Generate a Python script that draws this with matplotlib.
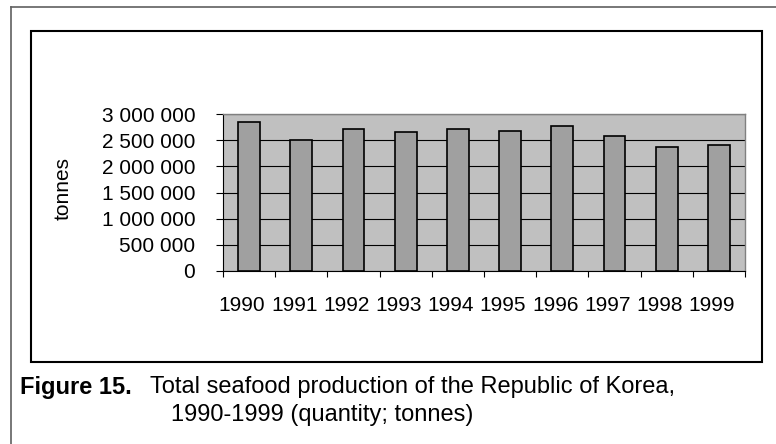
import matplotlib
matplotlib.use("Agg")
import matplotlib.pyplot as plt
import matplotlib.transforms as mtransforms
from matplotlib.patches import Rectangle
from matplotlib.lines import Line2D
from matplotlib.ticker import FuncFormatter

# Data
years = ["1990", "1991", "1992", "1993", "1994", "1995", "1996", "1997", "1998", "1999"]
production = [2855000, 2510000, 2710000, 2660000, 2710000, 2680000, 2780000, 2580000, 2365000, 2410000]
y_ticks = [0, 500000, 1000000, 1500000, 2000000, 2500000, 3000000]

plt.rcParams["font.family"] = ["Liberation Sans", "DejaVu Sans"]

W, H = 776, 444
fig = plt.figure(figsize=(W / 100, H / 100), dpi=100)


def fx(px):
    return px / W


def fy(py):
    return 1 - py / H


# Plot area
ax = fig.add_axes([fx(223), fy(271), fx(745) - fx(223), fy(114) - fy(271)])
ax.set_facecolor("#c0c0c0")
x = list(range(len(years)))
ax.bar(x, production, width=0.42, color="#a0a0a0", edgecolor="black", linewidth=1.2, zorder=3)
ax.set_xlim(-0.5, len(years) - 0.5)
ax.set_ylim(0, 3000000)

ax.set_yticks(y_ticks)
ax.yaxis.set_major_formatter(FuncFormatter(lambda v, p: f"{int(v):,}".replace(",", " ")))
ax.yaxis.grid(True, color="black", linewidth=0.8)
ax.set_axisbelow(True)

# tick marks between categories, labels at category centres
ax.set_xticks([i - 0.5 for i in range(len(years) + 1)])
ax.set_xticklabels([])
ax.set_xticks(x, minor=True)
ax.set_xticklabels(years, minor=True)
ax.tick_params(axis="x", which="major", length=4.5, width=0.8, direction="out")
ax.tick_params(axis="x", which="minor", length=0, pad=18, labelsize=15)
ax.tick_params(axis="y", length=5, width=0.8, pad=15, labelsize=15)

# labels sit a bit left of the category centre in the original
shift = mtransforms.ScaledTranslation(-7 / 100, 0, fig.dpi_scale_trans)
for lbl in ax.get_xticklabels(minor=True):
    lbl.set_transform(lbl.get_transform() + shift)

for s in ["top", "right"]:
    ax.spines[s].set_color("#808080")
    ax.spines[s].set_linewidth(1.0)
for s in ["left", "bottom"]:
    ax.spines[s].set_color("black")
    ax.spines[s].set_linewidth(0.8)

fig.text(fx(63), fy(188), "tonnes", rotation=90, ha="center", va="center", fontsize=15)

# chart box and outer page frame
fig.add_artist(Rectangle((fx(31), fy(362)), fx(762) - fx(31), fy(31) - fy(362),
                         transform=fig.transFigure, fill=False, edgecolor="black", linewidth=1.5))
fig.add_artist(Line2D([fx(11), 1], [fy(7), fy(7)], transform=fig.transFigure, color="#606060", linewidth=1.2))
fig.add_artist(Line2D([fx(11), fx(11)], [fy(7), 0], transform=fig.transFigure, color="#606060", linewidth=1.2))

# caption
fig.text(fx(20), fy(387), "Figure 15.", fontsize=17, fontweight="bold", ha="left", va="center")
fig.text(fx(150), fy(387), "Total seafood production of the Republic of Korea,", fontsize=17, ha="left", va="center")
fig.text(fx(171), fy(415), "1990-1999 (quantity; tonnes)", fontsize=17, ha="left", va="center")

fig.savefig("out.png", dpi=100)
